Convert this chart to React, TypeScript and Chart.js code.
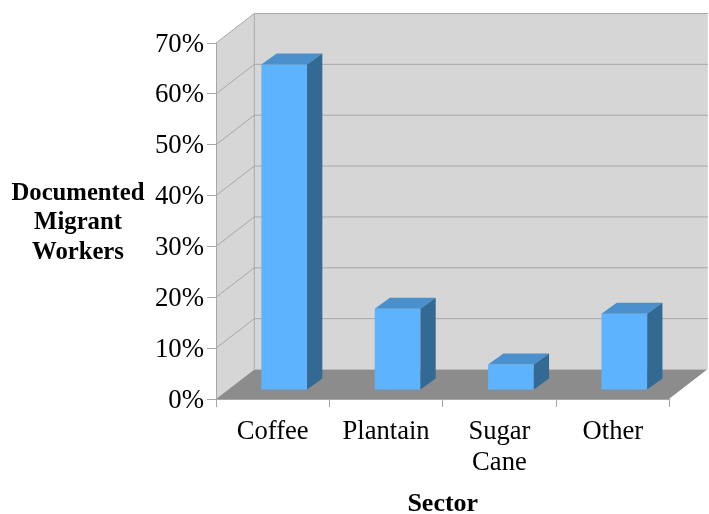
import React, { useEffect, useRef } from "react";
import { Chart, registerables } from "chart.js";

Chart.register(...registerables);

const categories: (string | string[])[] = ["Coffee", "Plantain", ["Sugar", "Cane"], "Other"];
const shares = [64, 16, 5, 15];
const yTitleLines = ["Documented", "Migrant", "Workers"];
const xTitle = "Sector";

const SERIF = "'Liberation Serif', serif";
const DEPTH_X = 38.3;
const DEPTH_Y = 29.5;
const BAR_SHIFT_X = 11.5;
const BAR_SHIFT_Y = 9;
const BAR_DEPTH_X = 15.3;
const BAR_DEPTH_Y = 11;
const WALL = "#d6d6d6";
const FLOOR = "#8c8c8c";
const LINE = "#a8a8a8";
const BAR_FRONT = "#5eb3ff";
const BAR_TOP = "#4a90cc";
const BAR_SIDE = "#336a94";

function poly(ctx: CanvasRenderingContext2D, pts: number[][], fill: string) {
  ctx.beginPath();
  pts.forEach((p, i) => (i ? ctx.lineTo(p[0], p[1]) : ctx.moveTo(p[0], p[1])));
  ctx.closePath();
  ctx.fillStyle = fill;
  ctx.fill();
}

const box3d = {
  id: "box3d",
  beforeDraw(chart: any) {
    const { ctx, chartArea: a, scales } = chart;
    const { left: l, right: r, top: t, bottom: b } = a;
    ctx.save();
    // side wall, back wall, floor
    poly(ctx, [[l, t], [l + DEPTH_X, t - DEPTH_Y], [l + DEPTH_X, b - DEPTH_Y], [l, b]], WALL);
    poly(ctx, [[l + DEPTH_X, t - DEPTH_Y], [r + DEPTH_X, t - DEPTH_Y], [r + DEPTH_X, b - DEPTH_Y], [l + DEPTH_X, b - DEPTH_Y]], WALL);
    poly(ctx, [[l, b], [r, b], [r + DEPTH_X, b - DEPTH_Y], [l + DEPTH_X, b - DEPTH_Y]], FLOOR);
    ctx.strokeStyle = LINE;
    ctx.lineWidth = 1;
    ctx.beginPath();
    scales.y.ticks.forEach((tk: any) => {
      const y = scales.y.getPixelForValue(tk.value);
      if (tk.value > 0) {
        ctx.moveTo(l, y);
        ctx.lineTo(l + DEPTH_X, y - DEPTH_Y);
        ctx.lineTo(r + DEPTH_X, y - DEPTH_Y);
      }
    });
    ctx.moveTo(l + DEPTH_X, t - DEPTH_Y);
    ctx.lineTo(l + DEPTH_X, b - DEPTH_Y);
    ctx.stroke();
    // right floor edge
    ctx.strokeStyle = "#ffffff";
    ctx.beginPath();
    ctx.moveTo(r, b);
    ctx.lineTo(r + DEPTH_X, b - DEPTH_Y);
    ctx.stroke();
    ctx.restore();
  },
  beforeDatasetsDraw(chart: any) {
    chart.ctx.save();
    chart.ctx.translate(BAR_SHIFT_X, -BAR_SHIFT_Y);
  },
  afterDatasetsDraw(chart: any) {
    const { ctx } = chart;
    chart.getDatasetMeta(0).data.forEach((bar: any) => {
      const { x, y, base, width } = bar.getProps(["x", "y", "base", "width"], true);
      const x0 = x - width / 2;
      const x1 = x + width / 2;
      poly(ctx, [[x0, y], [x1, y], [x1 + BAR_DEPTH_X, y - BAR_DEPTH_Y], [x0 + BAR_DEPTH_X, y - BAR_DEPTH_Y]], BAR_TOP);
      poly(ctx, [[x1, y], [x1 + BAR_DEPTH_X, y - BAR_DEPTH_Y], [x1 + BAR_DEPTH_X, base - BAR_DEPTH_Y], [x1, base]], BAR_SIDE);
    });
    ctx.restore();
  },
  afterDraw(chart: any) {
    const { ctx } = chart;
    ctx.save();
    ctx.font = `bold 24.7px ${SERIF}`;
    ctx.fillStyle = "#000000";
    ctx.textAlign = "center";
    ctx.textBaseline = "middle";
    yTitleLines.forEach((line, i) => ctx.fillText(line, 78, 193.5 + i * 29.5));
    ctx.restore();
  },
};

export default function App() {
  const ref = useRef<HTMLCanvasElement>(null);
  useEffect(() => {
    const chart = new Chart(ref.current!, {
      type: "bar",
      data: {
        labels: categories as any,
        datasets: [
          {
            label: "Documented Migrant Workers",
            data: shares,
            backgroundColor: BAR_FRONT,
            barPercentage: 0.403,
            categoryPercentage: 1,
            clip: false as any,
          },
        ],
      },
      options: {
        responsive: false,
        animation: false,
        devicePixelRatio: 1,
        layout: { padding: { top: 43, right: 39.5, left: 0, bottom: 0 } },
        plugins: { legend: { display: false }, tooltip: { enabled: false } },
        scales: {
          x: {
            afterFit: (s: any) => { s.height = 115; },
            grid: { drawOnChartArea: false, drawTicks: true, tickLength: 8, color: LINE, offset: true },
            border: { color: LINE },
            ticks: {
              color: "#000000",
              padding: 9,
              maxRotation: 0,
              autoSkip: false,
              font: { family: SERIF, size: 26.6, lineHeight: 1.17 },
            },
            title: {
              display: true,
              text: xTitle,
              color: "#000000",
              font: { family: SERIF, size: 26, weight: "bold" },
              padding: { top: 0, bottom: -6 },
            },
          },
          y: {
            min: 0,
            max: 70,
            afterFit: (s: any) => { s.width = 216; },
            grid: { drawOnChartArea: false, drawTicks: true, tickLength: 9, color: LINE },
            border: { color: LINE },
            ticks: {
              stepSize: 10,
              color: "#000000",
              padding: 3,
              labelOffset: 1.5,
              font: { family: SERIF, size: 26.8 },
              callback: (v: any) => `${v}%`,
            },
          },
        },
      },
      plugins: [box3d],
    } as any);
    return () => chart.destroy();
  }, []);
  return (
    <div style={{ position: "absolute", left: 0, top: 0, width: 709, height: 514 }}>
      <canvas ref={ref} width={709} height={514} style={{ display: "block" }} />
    </div>
  );
}
